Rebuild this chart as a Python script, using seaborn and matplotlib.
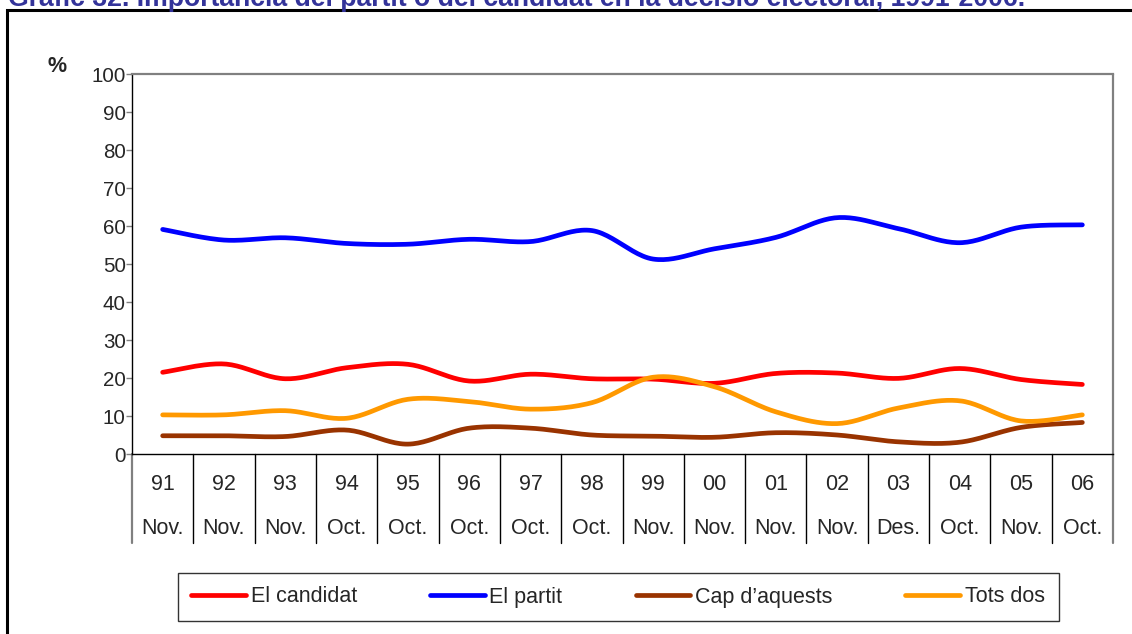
import numpy as np
import pandas as pd
import matplotlib
matplotlib.use("Agg")
import matplotlib.pyplot as plt
import matplotlib.transforms as mtransforms
from matplotlib.lines import Line2D
from matplotlib.patches import Rectangle
import seaborn as sns

# Survey waves (year + month)
years = ["91", "92", "93", "94", "95", "96", "97", "98",
         "99", "00", "01", "02", "03", "04", "05", "06"]
months = ["Nov.", "Nov.", "Nov.", "Oct.", "Oct.", "Oct.", "Oct.", "Oct.",
          "Nov.", "Nov.", "Nov.", "Nov.", "Des.", "Oct.", "Nov.", "Oct."]

# Percentages per answer
el_candidat = [21.5, 23.7, 19.8, 22.7, 23.6, 19.2, 21.0, 19.8,
               19.7, 18.6, 21.2, 21.3, 19.9, 22.5, 19.6, 18.3]
el_partit = [59.1, 56.3, 56.9, 55.4, 55.2, 56.5, 55.9, 58.8,
             51.3, 54.0, 57.0, 62.2, 59.3, 55.6, 59.7, 60.3]
cap_daquests = [4.8, 4.8, 4.6, 6.3, 2.6, 6.8, 6.8, 5.0,
                4.7, 4.4, 5.6, 5.0, 3.2, 3.1, 7.0, 8.3]
tots_dos = [10.3, 10.3, 11.4, 9.4, 14.4, 13.8, 11.8, 13.5,
            20.2, 17.7, 11.1, 8.0, 12.1, 14.0, 8.7, 10.3]

series_names = ["El candidat", "El partit", "Cap d\u2019aquests", "Tots dos"]
series_values = [el_candidat, el_partit, cap_daquests, tots_dos]
colors = ["#FF0000", "#0000FF", "#993300", "#FF9900"]

title = ("Gràfic 32. Importància del partit o del candidat en la decisió "
         "electoral, 1991-2006.")


def smooth_curve(values, steps=24):
    """Cubic Bezier smoothing through every point (spreadsheet-style)."""
    y = np.asarray(values, dtype=float)
    x = np.arange(len(y), dtype=float)
    pts = np.column_stack([x, y])
    ext = np.vstack([pts[0], pts, pts[-1]])
    out = [pts[0]]
    t = np.linspace(0, 1, steps + 1)[1:, None]
    for i in range(len(pts) - 1):
        p0, p1, p2, p3 = ext[i], ext[i + 1], ext[i + 2], ext[i + 3]
        c1 = p1 + (p2 - p0) / 6.0
        c2 = p2 - (p3 - p1) / 6.0
        seg = ((1 - t) ** 3 * p1 + 3 * (1 - t) ** 2 * t * c1
               + 3 * (1 - t) * t ** 2 * c2 + t ** 3 * p2)
        out.extend(seg)
    return np.array(out)


frames = []
for name, vals in zip(series_names, series_values):
    c = smooth_curve(vals)
    frames.append(pd.DataFrame({"x": c[:, 0], "y": c[:, 1], "serie": name}))
df = pd.concat(frames, ignore_index=True)

sns.set_style("white")
plt.rcParams["font.family"] = ["Liberation Sans", "DejaVu Sans"]

W, H = 1132, 634
fig = plt.figure(figsize=(W / 100, H / 100), dpi=100)

# Outer frame (runs off the right and bottom edges)
fig.patches.append(Rectangle((7 / W, -0.1), 1.2, 1 - 10 / H + 0.1,
                             transform=fig.transFigure, fill=False,
                             edgecolor="black", linewidth=2.2, zorder=0))
fig.text(8 / W, 1 - 6 / H, title, ha="left", va="baseline",
         fontsize=19.2, fontweight="bold", color="#333399")

x0, x1, y0, y1 = 132, 1113, 454, 74
ax = fig.add_axes([x0 / W, 1 - y0 / H, (x1 - x0) / W, (y0 - y1) / H])

sns.lineplot(data=df, x="x", y="y", hue="serie", hue_order=series_names,
             palette=colors, sort=False, estimator=None, units="serie",
             linewidth=3.4, legend=False, ax=ax)

ax.set_xlim(-0.5, len(years) - 0.5)
ax.set_ylim(0, 100)
ax.set_yticks(np.arange(0, 101, 10))
ax.set_xticks([])
ax.set_xlabel("")
ax.set_ylabel("")
ax.tick_params(axis="y", length=4.3, width=1, color="#808080",
               labelsize=14.8, pad=0.2, left=True)
for s in ["left", "bottom"]:
    ax.spines[s].set_color("black")
    ax.spines[s].set_linewidth(1.0)
ax.spines["top"].set_color("#808080")
ax.spines["top"].set_linewidth(1.6)
ax.spines["right"].set_visible(False)

# Category table under the axis
table_bottom = -(543 - 454) / (454 - 74)
trans = mtransforms.blended_transform_factory(ax.transData, ax.transAxes)
n = len(years)
for k in range(n + 1):
    xb = k - 0.5
    if k == 0:
        ax.plot([xb, xb], [0, table_bottom], transform=trans, color="#808080",
                lw=1.6, clip_on=False)
    elif k == n:
        ax.plot([xb, xb], [1, table_bottom], transform=trans, color="#808080",
                lw=1.6, clip_on=False)
    else:
        ax.plot([xb, xb], [0, table_bottom], transform=trans, color="black",
                lw=1.0, clip_on=False)
row1 = -(485 - 454) / (454 - 74)
row2 = -(528 - 454) / (454 - 74)
for i, (yr, mo) in enumerate(zip(years, months)):
    ax.text(i, row1, yr, transform=trans, ha="center", va="center",
            fontsize=15.5)
    ax.text(i, row2, mo, transform=trans, ha="center", va="center",
            fontsize=15.5)

fig.text(57 / W, 1 - 67 / H, "%", ha="center", va="center", fontsize=15.5,
         fontweight="bold")

handles = [Line2D([], [], color=c, lw=3.4) for c in colors]
leg = fig.legend(handles, series_names, loc="center",
                 bbox_to_anchor=(618 / W, 1 - 597 / H), ncol=4,
                 fontsize=15.5, frameon=True, fancybox=False,
                 handlelength=2.55, handletextpad=0.2, columnspacing=3.4,
                 borderpad=0.65, borderaxespad=0)
leg.get_frame().set_edgecolor("black")
leg.get_frame().set_linewidth(1.0)

fig.savefig("out.png", dpi=100)
